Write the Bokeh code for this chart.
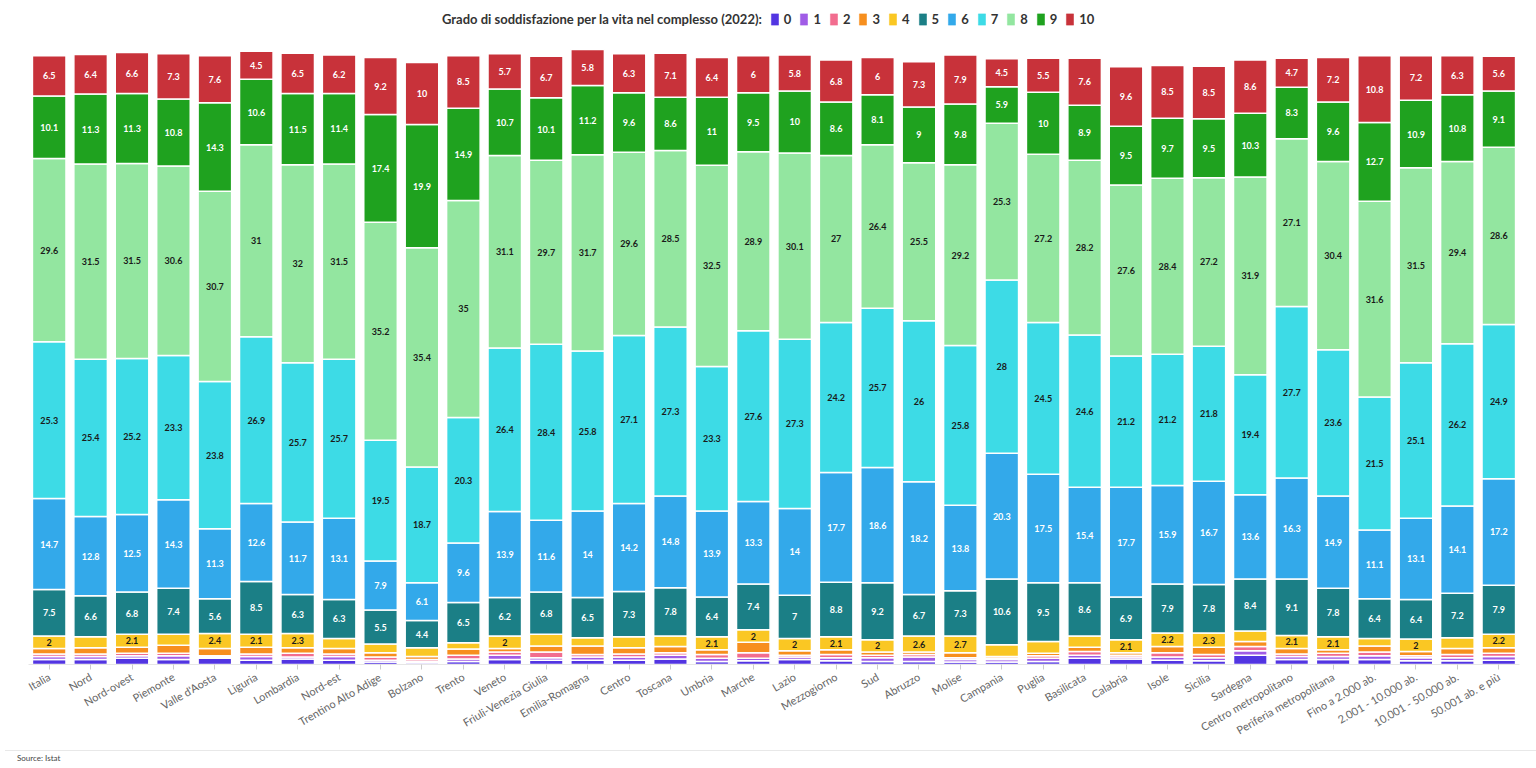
import math

from bokeh.core.properties import value
from bokeh.embed import file_html
from bokeh.layouts import column
from bokeh.models import ColumnDataSource, Div, FactorRange, Legend, LegendItem, Range1d
from bokeh.plotting import figure
from bokeh.resources import INLINE

# Ripartizioni, regioni e tipi di comune
categorie = [
    "Italia", "Nord", "Nord-ovest", "Piemonte", "Valle d'Aosta", "Liguria",
    "Lombardia", "Nord-est", "Trentino Alto Adige", "Bolzano", "Trento",
    "Veneto", "Friuli-Venezia Giulia", "Emilia-Romagna", "Centro", "Toscana",
    "Umbria", "Marche", "Lazio", "Mezzogiorno", "Sud", "Abruzzo", "Molise",
    "Campania", "Puglia", "Basilicata", "Calabria", "Isole", "Sicilia",
    "Sardegna", "Centro metropolitano", "Periferia metropolitana",
    "Fino a 2.000 ab.", "2.001 - 10.000 ab.", "10.001 - 50.000 ab.",
    "50.001 ab. e più",
]

# Quota di persone (%) per punteggio di soddisfazione, 0 = per niente, 10 = molto
voto_0 = [0.8, 0.8, 1.0, 0.8, 1.0, 0.7, 0.9, 0.7, 0.4, 0.3, 0.5, 0.8, 0.7, 0.7,
          0.7, 0.9, 0.5, 0.6, 0.8, 0.6, 0.5, 0.5, 0.4, 0.4, 0.5, 1.0, 0.9, 0.7,
          0.6, 1.5, 0.8, 0.8, 0.8, 0.6, 0.6, 0.7]
voto_1 = [0.5, 0.5, 0.4, 0.6, 0.2, 0.6, 0.3, 0.6, 0.3, 0.2, 0.4, 0.7, 0.4, 0.5,
          0.5, 0.6, 0.5, 0.4, 0.4, 0.5, 0.6, 0.7, 0.4, 0.4, 0.5, 0.5, 0.3, 0.5,
          0.5, 0.7, 0.5, 0.5, 0.6, 0.5, 0.5, 0.6]
voto_2 = [0.4, 0.4, 0.4, 0.4, 0.2, 0.4, 0.6, 0.4, 0.5, 0.3, 0.6, 0.5, 0.9, 0.4,
          0.5, 0.4, 0.6, 0.9, 0.3, 0.5, 0.4, 0.4, 0.3, 0.2, 0.4, 0.6, 0.3, 0.7,
          0.5, 0.7, 0.4, 0.5, 0.6, 0.3, 0.5, 0.5]
voto_3 = [0.9, 1.0, 1.0, 1.3, 1.2, 1.1, 0.9, 0.9, 0.7, 0.5, 1.0, 0.6, 1.0, 1.4,
          1.0, 1.0, 0.8, 1.7, 0.7, 0.8, 0.5, 0.4, 0.8, 0.3, 0.4, 0.7, 0.4, 1.0,
          1.2, 0.8, 0.9, 0.6, 1.0, 0.7, 1.0, 0.9]
voto_4 = [2.0, 1.8, 2.1, 1.8, 2.4, 2.1, 2.3, 1.6, 1.4, 1.4, 1.0, 2.0, 1.9, 1.3,
          1.8, 1.7, 2.1, 2.0, 2.0, 2.1, 2.0, 2.6, 2.7, 1.9, 1.9, 1.8, 2.1, 2.2,
          2.3, 1.7, 2.1, 2.1, 1.2, 2.0, 1.7, 2.2]
voto_5 = [7.5, 6.6, 6.8, 7.4, 5.6, 8.5, 6.3, 6.3, 5.5, 4.4, 6.5, 6.2, 6.8, 6.5,
          7.3, 7.8, 6.4, 7.4, 7.0, 8.8, 9.2, 6.7, 7.3, 10.6, 9.5, 8.6, 6.9, 7.9,
          7.8, 8.4, 9.1, 7.8, 6.4, 6.4, 7.2, 7.9]
voto_6 = [14.7, 12.8, 12.5, 14.3, 11.3, 12.6, 11.7, 13.1, 7.9, 6.1, 9.6, 13.9,
          11.6, 14.0, 14.2, 14.8, 13.9, 13.3, 14.0, 17.7, 18.6, 18.2, 13.8, 20.3,
          17.5, 15.4, 17.7, 15.9, 16.7, 13.6, 16.3, 14.9, 11.1, 13.1, 14.1, 17.2]
voto_7 = [25.3, 25.4, 25.2, 23.3, 23.8, 26.9, 25.7, 25.7, 19.5, 18.7, 20.3, 26.4,
          28.4, 25.8, 27.1, 27.3, 23.3, 27.6, 27.3, 24.2, 25.7, 26.0, 25.8, 28.0,
          24.5, 24.6, 21.2, 21.2, 21.8, 19.4, 27.7, 23.6, 21.5, 25.1, 26.2, 24.9]
voto_8 = [29.6, 31.5, 31.5, 30.6, 30.7, 31.0, 32.0, 31.5, 35.2, 35.4, 35.0, 31.1,
          29.7, 31.7, 29.6, 28.5, 32.5, 28.9, 30.1, 27.0, 26.4, 25.5, 29.2, 25.3,
          27.2, 28.2, 27.6, 28.4, 27.2, 31.9, 27.1, 30.4, 31.6, 31.5, 29.4, 28.6]
voto_9 = [10.1, 11.3, 11.3, 10.8, 14.3, 10.6, 11.5, 11.4, 17.4, 19.9, 14.9, 10.7,
          10.1, 11.2, 9.6, 8.6, 11.0, 9.5, 10.0, 8.6, 8.1, 9.0, 9.8, 5.9, 10.0,
          8.9, 9.5, 9.7, 9.5, 10.3, 8.3, 9.6, 12.7, 10.9, 10.8, 9.1]
voto_10 = [6.5, 6.4, 6.6, 7.3, 7.6, 4.5, 6.5, 6.2, 9.2, 10.0, 8.5, 5.7, 6.7, 5.8,
           6.3, 7.1, 6.4, 6.0, 5.8, 6.8, 6.0, 7.3, 7.9, 4.5, 5.5, 7.6, 9.6, 8.5,
           8.5, 8.6, 4.7, 7.2, 10.8, 7.2, 6.3, 5.6]

punteggi = ["0", "1", "2", "3", "4", "5", "6", "7", "8", "9", "10"]
serie = [voto_0, voto_1, voto_2, voto_3, voto_4, voto_5, voto_6, voto_7,
         voto_8, voto_9, voto_10]

colori = ["#5235e2", "#a05ce6", "#f26d8f", "#f78f1e", "#fac723", "#1b7f86",
          "#33a9ea", "#3ddbe6", "#93e6a0", "#1fa21f", "#c8323a"]
colori_testo = ["#ffffff", "#ffffff", "#ffffff", "#ffffff", "#1a1a1a", "#ffffff",
                "#ffffff", "#1a1a1a", "#1a1a1a", "#ffffff", "#ffffff"]

FONT = "Lato"

dati = {"categoria": categorie}
for k, v in zip(punteggi, serie):
    dati[k] = v
src = ColumnDataSource(dati)

# Etichette dei segmenti (solo dal 2% in su), poste al centro di ogni blocco
lx, ly, lt, lc = [], [], [], []
for i, cat in enumerate(categorie):
    base = 0.0
    for v, col in zip(serie, colori_testo):
        val = v[i]
        if val >= 2:
            lx.append(cat)
            ly.append(base + val / 2)
            lt.append(f"{val:g}")
            lc.append(col)
        base += val
etichette = ColumnDataSource(dict(x=lx, y=ly, text=lt, color=lc))

# L'area del grafico arriva quasi al bordo superiore: la riga con titolo e
# legenda sta nello spazio libero sopra le barre
p = figure(
    x_range=FactorRange(*categorie),
    y_range=Range1d(0, 106.4),
    width=1536, height=745,
    min_border_left=28, min_border_right=17,
    min_border_top=5, min_border_bottom=80,
    output_backend="svg", toolbar_location=None,
)

p.vbar_stack(punteggi, x="categoria", width=0.81, color=colori,
             source=src, line_color="white", line_width=1.5)

p.text(x="x", y="y", text="text", text_color="color", source=etichette,
       text_align="center", text_baseline="middle",
       text_font=value(FONT), text_font_size="9px", text_font_style="bold")

# Titolo e legenda sulla stessa riga; i campioni sono glifi nascosti,
# pieni e senza il bordo bianco delle barre
vuoto = p.vbar(x="categoria", top="0", width=0.5, source=src,
               fill_alpha=0, line_alpha=0, visible=False)
campioni = [p.vbar(x="categoria", top=k, width=0.5, source=src,
                   fill_color=c, line_color=c, line_width=0.5, visible=False)
            for k, c in zip(punteggi, colori)]
voci = [LegendItem(label="Grado di soddisfazione per la vita nel complesso (2022):",
                   renderers=[vuoto])]
voci += [LegendItem(label=k, renderers=[r]) for k, r in zip(punteggi, campioni)]
legenda = Legend(
    items=voci, orientation="horizontal", location=(400, 637),
    glyph_width=9, glyph_height=14, label_height=14, label_width=0,
    label_standoff=5, spacing=8, padding=0, margin=0,
    label_text_font=FONT, label_text_font_size="13px",
    label_text_font_style="bold", label_text_color="#333333",
    background_fill_alpha=0, border_line_alpha=0,
    inactive_fill_alpha=0,
)
p.add_layout(legenda, "center")

p.xaxis.major_label_orientation = math.pi / 6
p.xaxis.major_label_text_font = FONT
p.xaxis.major_label_text_font_size = "11px"
p.xaxis.major_label_text_color = "#666666"
p.xaxis.major_label_standoff = 6
p.xaxis.major_tick_in = 0
p.xaxis.major_tick_out = 5
p.xaxis.major_tick_line_color = "#cccccc"
p.xaxis.axis_line_color = "#e6e6e6"
p.yaxis.visible = False
p.xgrid.visible = False
p.ygrid.visible = False
p.outline_line_color = None

fonte = Div(
    text="Source: Istat", width=1536, height=23,
    styles={"border-top": "1px solid #e8e8e8", "font-family": FONT,
            "font-size": "8px", "color": "#444444", "padding": "2px 0 0 12px",
            "box-sizing": "border-box"},
)

pagina = column(p, fonte, spacing=0)
open("out.html", "w").write(file_html(pagina, INLINE))
